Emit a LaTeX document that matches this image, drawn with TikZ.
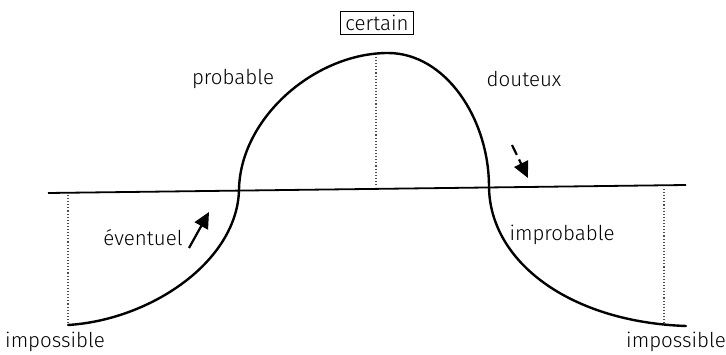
\documentclass[tikz,border=0pt]{standalone}
\usepackage{fontspec}
\setmainfont{Fira Sans Light}
\usetikzlibrary{arrows.meta}
\tikzset{
  courbe/.style={line width=2.4pt,line cap=round},
  axe/.style={line width=1.8pt},
  repere/.style={line width=1.1pt,dotted,gray!60!black},
  lbl/.style={font=\fontsize{20.5}{24}\selectfont,inner sep=2pt},
  cadre/.style={lbl,draw,line width=0.9pt,inner xsep=5pt,inner ysep=4pt},
  fl/.style={-{Triangle[length=16pt,width=15pt]},line width=2.2pt},
}
\begin{document}
\begin{tikzpicture}[x=1pt,y=-1pt]
  \useasboundingbox (0,0) rectangle (726,355);
  % axe horizontal
  \coordinate (ag) at (48,193);
  \coordinate (ad) at (686,185);
  \draw[axe] (ag) -- (ad);
  % reperes pointilles
  \coordinate (p1) at (68,195);
  \coordinate (p1b) at (68,325);
  \coordinate (p2) at (376,57);
  \coordinate (p2b) at (376,186);
  \coordinate (p3) at (664,189);
  \coordinate (p3b) at (664,324);
  \draw[repere] (p1) -- (p1b);
  \draw[repere] (p2) -- (p2b);
  \draw[repere] (p3) -- (p3b);
  % la courbe
  \coordinate (c0) at (68,325);
  \coordinate (c1) at (239,190);
  \coordinate (c2) at (388,53);
  \coordinate (c3) at (489,187);
  \coordinate (c4) at (686,326);
  \draw[courbe] (c0) .. controls (150,320) and (237,262) .. (c1)
    .. controls (240,118) and (315,53) .. (c2)
    .. controls (445,53) and (489,118) .. (c3)
    .. controls (490,262) and (570,322) .. (c4);
  % fleches
  \coordinate (f1a) at (189,248);
  \coordinate (f1b) at (209,212);
  \draw[fl] (f1a) -- (f1b);
  \coordinate (f2a) at (512,145);
  \coordinate (f2b) at (528,178);
  \draw[fl,dash pattern=on 11pt off 5pt] (f2a) -- (f2b);
  % textes
  \node[cadre] (certain) at (377,23) {certain};
  \node[lbl] (probable) at (233,79) {probable};
  \node[lbl] (douteux) at (524,79) {douteux};
  \node[lbl] (eventuel) at (143,238) {éventuel};
  \node[lbl] (improbable) at (562,235) {improbable};
  \node[lbl] (impg) at (55,342) {impossible};
  \node[lbl] (impd) at (676,342) {impossible};
\end{tikzpicture}
\end{document}
